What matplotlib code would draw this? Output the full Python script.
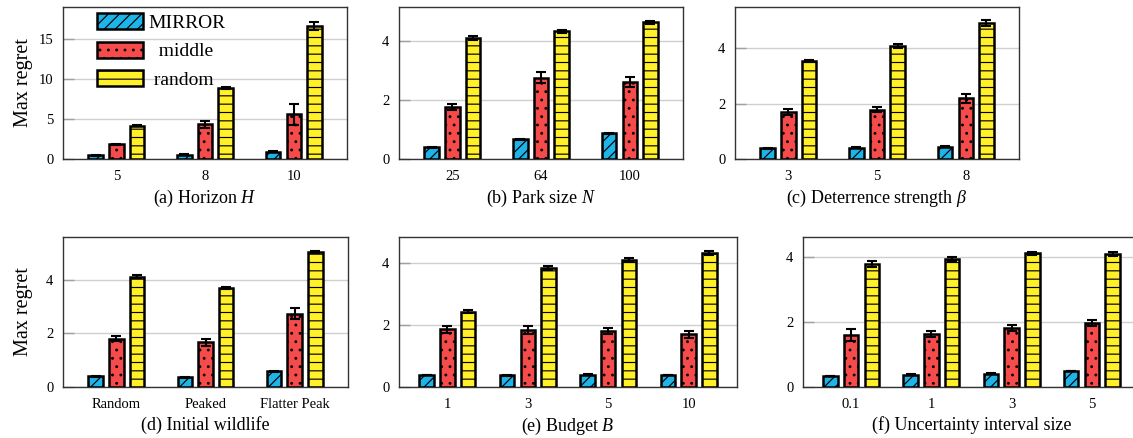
import matplotlib
matplotlib.use("Agg")
import matplotlib.pyplot as plt
import numpy as np

plt.rcParams['font.family'] = ['Liberation Serif', 'DejaVu Serif']
plt.rcParams['mathtext.fontset'] = 'custom'
plt.rcParams['mathtext.rm'] = 'Liberation Serif'
plt.rcParams['mathtext.it'] = 'Liberation Serif:italic'
plt.rcParams['hatch.linewidth'] = 0.85

series_names = ["MIRROR", "  middle", " random"]
colors = ["#1db4e8", "#f54b4b", "#fff02a"]
hatches = ["///", "..", "--"]

# ---- data ----
a_cats = ["5", "8", "10"]
a_mirror = [0.45, 0.55, 0.90]
a_mirror_err = [0.04, 0.04, 0.08]
a_middle = [1.85, 4.35, 5.60]
a_middle_err = [0.05, 0.45, 1.30]
a_random = [4.15, 8.85, 16.60]
a_random_err = [0.05, 0.10, 0.50]

b_cats = ["25", "64", "100"]
b_mirror = [0.39, 0.67, 0.87]
b_mirror_err = [0.02, 0.02, 0.02]
b_middle = [1.77, 2.76, 2.61]
b_middle_err = [0.10, 0.18, 0.18]
b_random = [4.11, 4.32, 4.64]
b_random_err = [0.07, 0.04, 0.05]

c_cats = ["3", "5", "8"]
c_mirror = [0.39, 0.40, 0.44]
c_mirror_err = [0.02, 0.02, 0.02]
c_middle = [1.70, 1.79, 2.20]
c_middle_err = [0.12, 0.10, 0.17]
c_random = [3.56, 4.10, 4.92]
c_random_err = [0.03, 0.07, 0.10]

d_cats = ["Random", "Peaked", "Flatter Peak"]
d_mirror = [0.40, 0.37, 0.59]
d_mirror_err = [0.02, 0.02, 0.02]
d_middle = [1.81, 1.67, 2.74]
d_middle_err = [0.10, 0.13, 0.20]
d_random = [4.12, 3.70, 5.05]
d_random_err = [0.06, 0.03, 0.03]

e_cats = ["1", "3", "5", "10"]
e_mirror = [0.39, 0.38, 0.40, 0.39]
e_mirror_err = [0.01, 0.01, 0.01, 0.01]
e_middle = [1.87, 1.84, 1.80, 1.70]
e_middle_err = [0.11, 0.12, 0.10, 0.12]
e_random = [2.44, 3.84, 4.10, 4.33]
e_random_err = [0.05, 0.07, 0.06, 0.07]

f_cats = ["0.1", "1", "3", "5"]
f_mirror = [0.34, 0.38, 0.41, 0.49]
f_mirror_err = [0.01, 0.01, 0.01, 0.01]
f_middle = [1.59, 1.63, 1.80, 1.96]
f_middle_err = [0.18, 0.09, 0.09, 0.10]
f_random = [3.77, 3.92, 4.10, 4.09]
f_random_err = [0.08, 0.06, 0.05, 0.06]

W, H = 1133, 438
fig = plt.figure(figsize=(W / 100, H / 100), dpi=100)

panels = [
    ((63, 7, 347, 159), a_cats, [a_mirror, a_middle, a_random],
     [a_mirror_err, a_middle_err, a_random_err], 19.0, [0, 5, 10, 15], "(a) Horizon $H$", True),
    ((399, 7, 683, 159), b_cats, [b_mirror, b_middle, b_random],
     [b_mirror_err, b_middle_err, b_random_err], 5.15, [0, 2, 4], "(b) Park size $N$", False),
    ((735, 7, 1019, 159), c_cats, [c_mirror, c_middle, c_random],
     [c_mirror_err, c_middle_err, c_random_err], 5.5, [0, 2, 4], r"(c) Deterrence strength $\beta$", False),
    ((63, 237, 348, 387), d_cats, [d_mirror, d_middle, d_random],
     [d_mirror_err, d_middle_err, d_random_err], 5.6, [0, 2, 4], "(d) Initial wildlife", True),
    ((399, 237, 737, 387), e_cats, [e_mirror, e_middle, e_random],
     [e_mirror_err, e_middle_err, e_random_err], 4.85, [0, 2, 4], "(e) Budget $B$", False),
    ((803, 237, 1140, 387), f_cats, [f_mirror, f_middle, f_random],
     [f_mirror_err, f_middle_err, f_random_err], 4.6, [0, 2, 4], "(f) Uncertainty interval size", False),
]

first_ax = None
for (l, t, r, b), cats, vals, errs, ytop, yticks, caption, has_ylabel in panels:
    ax = fig.add_axes([l / W, (H - b) / H, (r - l) / W, (b - t) / H])
    n = len(cats)
    x = np.arange(n)
    xmin, xmax = -0.6, n - 0.4
    per_px = (xmax - xmin) / (r - l)
    width = 14.5 * per_px
    pitch = 20.7 * per_px
    for i in range(3):
        ax.bar(x + (i - 1) * pitch, vals[i], width, color=colors[i], edgecolor="black",
               linewidth=1.8, hatch=hatches[i], label=series_names[i], zorder=3)
        ax.errorbar(x + (i - 1) * pitch, vals[i], yerr=errs[i], fmt="none", ecolor="black",
                    elinewidth=1.5, capsize=3.5, capthick=1.5, zorder=4)
    ax.set_xlim(xmin, xmax)
    ax.set_ylim(0, ytop)
    ax.set_yticks(yticks)
    ax.set_xticks(x)
    ax.set_xticklabels(cats)
    ax.yaxis.grid(True, color="#cfcfcf", linewidth=1.0, zorder=0)
    ax.set_axisbelow(True)
    ax.tick_params(axis="x", length=0, pad=8, labelsize=10.5)
    ax.tick_params(axis="y", direction="in", length=8, width=1.0, color="#a0a0a0",
                   pad=7, labelsize=10.5)
    for s in ax.spines.values():
        s.set_color("#333333")
        s.set_linewidth(1.0)
    ax.set_xlabel(caption, fontsize=13, labelpad=3.5)
    if has_ylabel:
        ax.set_ylabel("Max regret", fontsize=14.5)
        ax.yaxis.set_label_coords(-0.105, 0.5)
    if first_ax is None:
        first_ax = ax

first_ax.legend(loc="upper left", bbox_to_anchor=(0.119, 0.96), frameon=False,
                fontsize=14, handlelength=2.4, handleheight=0.9, handletextpad=0.27,
                labelspacing=0.5, borderpad=0, borderaxespad=0)

fig.savefig("out.png", dpi=100)
